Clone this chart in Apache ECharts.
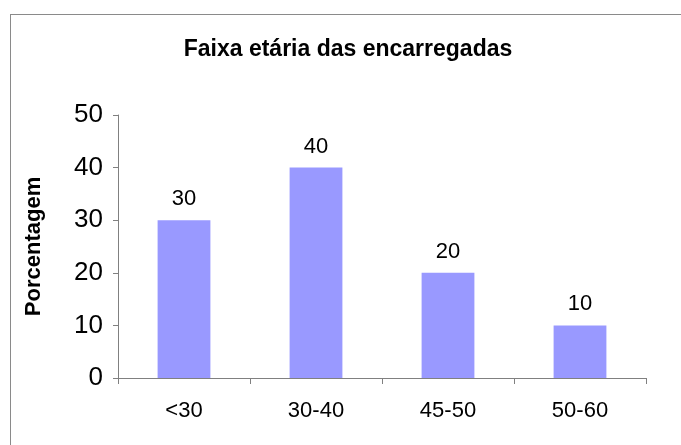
<!DOCTYPE html>
<html>
<head>
<meta charset="utf-8">
<script src="https://cdn.jsdelivr.net/npm/echarts@6/dist/echarts.min.js"></script>
<style>
  html, body { margin: 0; padding: 0; background: #ffffff; }
  #frame { position: absolute; left: 10px; top: 14px; width: 700px; height: 460px;
           border-top: 1.5px solid #8a8a8a; border-left: 1.5px solid #8a8a8a; }
  #chart { width: 681px; height: 445px; position: absolute; left: 0; top: 0; }
</style>
</head>
<body>
<div id="frame"></div>
<div id="chart"></div>
<script>
const titleText = 'Faixa etária das encarregadas';
const yAxisName = 'Porcentagem';
const categories = ['<30', '30-40', '45-50', '50-60'];
const percentages = [30, 40, 20, 10];
const yMin = 0, yMax = 50, yStep = 10;

const chart = echarts.init(document.getElementById('chart'), null, { renderer: 'canvas' });
const font = 'Arial, "Liberation Sans", sans-serif';
const axisGray = '#808080';

chart.setOption({
  animation: false,
  backgroundColor: 'transparent',
  title: {
    text: titleText,
    left: 343, top: 33, textAlign: 'center',
    textStyle: { fontFamily: font, fontSize: 23, fontWeight: 'bold', color: '#000' }
  },
  grid: { left: 118, top: 115, width: 528, height: 263, containLabel: false },
  xAxis: {
    type: 'category',
    data: categories,
    axisLine: { lineStyle: { color: axisGray, width: 1 } },
    axisTick: { show: true, alignWithLabel: false, length: 6, lineStyle: { color: axisGray } },
    axisLabel: { fontFamily: font, fontSize: 22, color: '#000', margin: 22 }
  },
  yAxis: {
    type: 'value',
    min: yMin, max: yMax, interval: yStep,
    name: yAxisName,
    nameLocation: 'middle',
    nameGap: 73,
    nameTextStyle: { fontFamily: font, fontSize: 22, fontWeight: 'bold', color: '#000' },
    axisLine: { show: true, lineStyle: { color: axisGray, width: 1 } },
    axisTick: { show: true, length: 5, lineStyle: { color: axisGray } },
    axisLabel: { fontFamily: font, fontSize: 26, color: '#000', margin: 15 },
    splitLine: { show: false }
  },
  series: [{
    type: 'bar',
    data: percentages,
    barWidth: '40%',
    itemStyle: { color: '#9999FF' },
    label: {
      show: true, position: 'top', distance: 10,
      fontFamily: font, fontSize: 22, color: '#000'
    }
  }]
});
</script>
</body>
</html>
